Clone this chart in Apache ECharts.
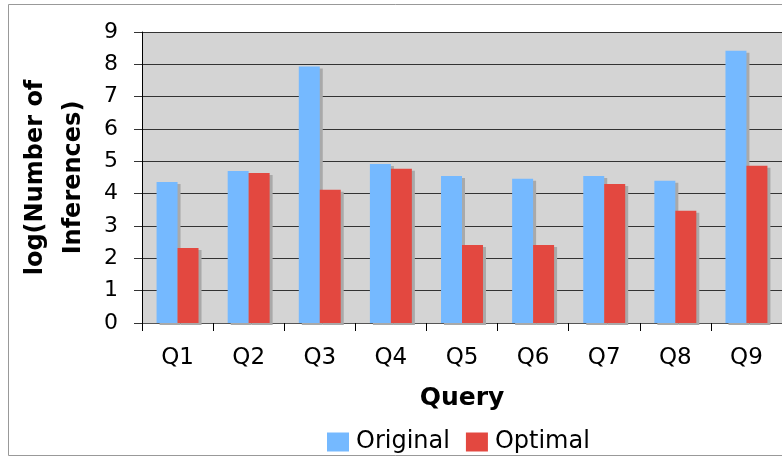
<!DOCTYPE html>
<html>
<head>
<meta charset="utf-8">
<script src="https://cdn.jsdelivr.net/npm/echarts@6/dist/echarts.min.js"></script>
<style>
  html, body { margin: 0; padding: 0; background: #fff; }
  #chart { width: 782px; height: 458px; }
</style>
</head>
<body>
<div id="chart"></div>
<script>
var queries = ["Q1", "Q2", "Q3", "Q4", "Q5", "Q6", "Q7", "Q8", "Q9"];
var original = [4.36, 4.70, 7.93, 4.92, 4.55, 4.46, 4.55, 4.40, 8.42];
var optimal = [2.32, 4.64, 4.12, 4.77, 2.41, 2.41, 4.30, 3.47, 4.86];

var font = "DejaVu Sans, Verdana, sans-serif";
var chart = echarts.init(document.getElementById("chart"));

var barShadow = {
    shadowColor: "#a9a9a9",
    shadowBlur: 0,
    shadowOffsetX: 3,
    shadowOffsetY: 2
};

var option = {
    backgroundColor: "#fff",
    animation: false,
    textStyle: { fontFamily: font, color: "#000" },
    graphic: [{
        type: "rect",
        shape: { x: 8.5, y: 4.5, width: 800, height: 451 },
        style: { fill: "none", stroke: "#999", lineWidth: 1 },
        z: -10
    }],
    grid: {
        left: 142,
        top: 32,
        width: 643,
        height: 291,
        show: true,
        backgroundColor: "#d4d4d4",
        borderWidth: 0
    },
    legend: {
        data: ["Original", "Optimal"],
        left: 322,
        top: 425,
        icon: "rect",
        itemWidth: 22,
        itemHeight: 19,
        itemGap: 16,
        textStyle: { fontFamily: font, fontSize: 24, color: "#000", padding: [0, 0, 0, 2] }
    },
    xAxis: {
        type: "category",
        data: queries,
        name: "Query",
        nameLocation: "middle",
        nameGap: 63,
        nameTextStyle: { fontFamily: font, fontSize: 25, fontWeight: "bold", color: "#000" },
        axisLine: { show: true, lineStyle: { color: "#555", width: 1 } },
        axisTick: { show: true, inside: false, length: 8, lineStyle: { color: "#000" } },
        axisLabel: { fontFamily: font, fontSize: 23, color: "#000", margin: 24 }
    },
    yAxis: {
        type: "value",
        min: 0,
        max: 9,
        interval: 1,
        name: "log(Number of\nInferences)",
        nameLocation: "middle",
        nameGap: 47,
        nameTextStyle: { fontFamily: font, fontSize: 24, fontWeight: "bold", color: "#000", lineHeight: 38 },
        axisLine: { show: true, lineStyle: { color: "#000", width: 1 } },
        axisTick: { show: true, inside: false, length: 8, lineStyle: { color: "#333" } },
        axisLabel: { fontFamily: font, fontSize: 22, color: "#000", margin: 24 },
        splitLine: { show: true, lineStyle: { color: "#333", width: 1 } }
    },
    series: [
        {
            name: "Original",
            type: "bar",
            data: original,
            barGap: "0%",
            barCategoryGap: "41%",
            itemStyle: Object.assign({ color: "#75b9ff" }, barShadow)
        },
        {
            name: "Optimal",
            type: "bar",
            data: optimal,
            itemStyle: Object.assign({ color: "#e34840" }, barShadow)
        }
    ]
};

chart.setOption(option);
</script>
</body>
</html>
